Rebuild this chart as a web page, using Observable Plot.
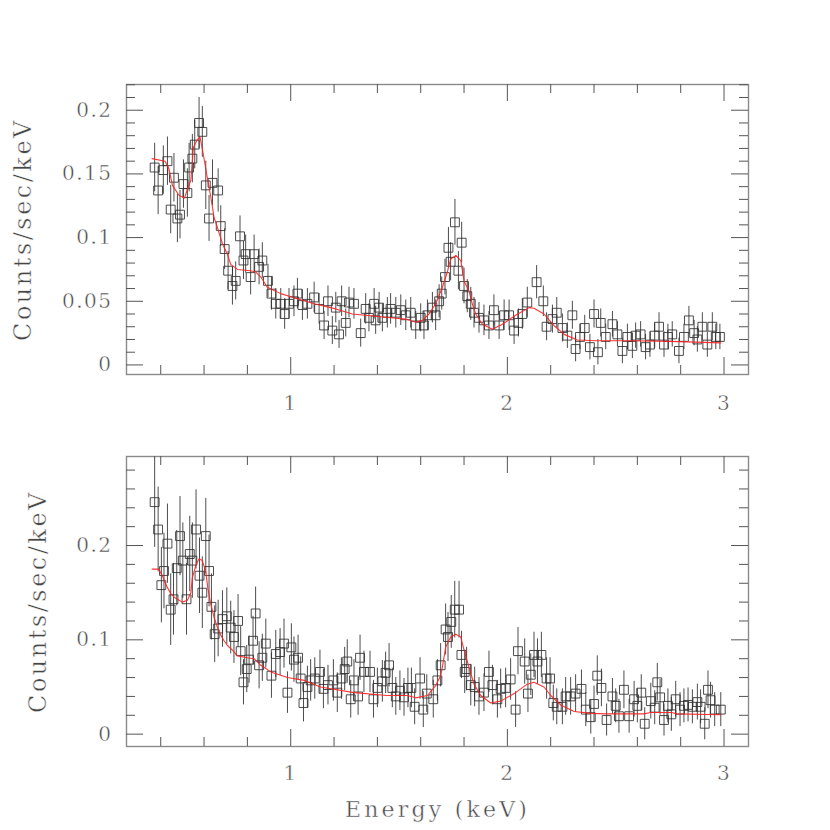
<!DOCTYPE html>
<html><head><meta charset="utf-8">
<script src="https://cdn.jsdelivr.net/npm/d3@7"></script>
<script src="https://cdn.jsdelivr.net/npm/@observablehq/plot@0.6"></script>
<style>body{margin:0;background:#fff;} #chart svg{display:block;}</style>
</head><body><div id="chart"></div>
<script>
// ---- Data: [energy keV, counts/sec/keV, error] ----
const topData = [
[0.372,0.155,0.019],[0.388,0.137,0.019],[0.412,0.153,0.019],[0.431,0.160,0.019],[0.446,0.122,0.019],
[0.461,0.147,0.019],[0.477,0.115,0.019],[0.489,0.118,0.019],[0.505,0.142,0.019],[0.523,0.135,0.019],
[0.531,0.155,0.019],[0.546,0.162,0.019],[0.557,0.173,0.019],[0.577,0.190,0.020],[0.592,0.183,0.020],
[0.608,0.141,0.019],[0.623,0.115,0.018],[0.639,0.143,0.018],[0.665,0.137,0.017],[0.677,0.109,0.016],
[0.695,0.091,0.016],[0.711,0.074,0.015],[0.731,0.062,0.015],[0.746,0.066,0.015],[0.766,0.101,0.016],
[0.782,0.082,0.015],[0.792,0.087,0.015],[0.815,0.069,0.014],[0.831,0.087,0.015],[0.854,0.077,0.014],
[0.869,0.082,0.014],[0.895,0.066,0.013],[0.911,0.056,0.013],[0.931,0.048,0.012],[0.954,0.048,0.012],
[0.972,0.040,0.012],[0.992,0.048,0.012],[1.015,0.050,0.012],[1.031,0.056,0.012],[1.054,0.047,0.012],
[1.077,0.048,0.012],[1.108,0.053,0.012],[1.131,0.044,0.012],[1.154,0.031,0.011],[1.172,0.050,0.012],
[1.192,0.027,0.011],[1.208,0.045,0.012],[1.223,0.024,0.011],[1.235,0.050,0.012],[1.254,0.033,0.011],
[1.269,0.049,0.012],[1.292,0.048,0.012],[1.323,0.025,0.011],[1.346,0.044,0.012],[1.361,0.037,0.011],
[1.385,0.048,0.012],[1.392,0.035,0.011],[1.408,0.045,0.012],[1.423,0.037,0.011],[1.446,0.041,0.012],
[1.461,0.044,0.012],[1.485,0.041,0.012],[1.508,0.043,0.012],[1.531,0.039,0.012],[1.554,0.041,0.012],
[1.577,0.031,0.011],[1.600,0.037,0.011],[1.615,0.031,0.011],[1.631,0.039,0.012],[1.654,0.045,0.012],
[1.669,0.039,0.012],[1.685,0.050,0.013],[1.697,0.056,0.013],[1.712,0.069,0.014],[1.728,0.092,0.016],
[1.738,0.081,0.015],[1.758,0.112,0.018],[1.774,0.074,0.015],[1.789,0.096,0.016],[1.800,0.062,0.014],
[1.815,0.054,0.013],[1.831,0.048,0.013],[1.846,0.041,0.012],[1.869,0.037,0.012],[1.892,0.035,0.012],
[1.915,0.031,0.011],[1.938,0.043,0.012],[1.962,0.031,0.011],[1.985,0.039,0.012],[2.008,0.039,0.012],
[2.031,0.027,0.011],[2.051,0.033,0.011],[2.069,0.040,0.012],[2.092,0.049,0.012],[2.135,0.065,0.013],
[2.166,0.050,0.012],[2.181,0.030,0.011],[2.208,0.036,0.011],[2.228,0.041,0.012],[2.254,0.029,0.011],
[2.277,0.023,0.010],[2.300,0.039,0.011],[2.315,0.0125,0.010],[2.335,0.022,0.010],[2.357,0.029,0.010],
[2.381,0.014,0.010],[2.400,0.040,0.011],[2.418,0.010,0.010],[2.431,0.033,0.011],[2.454,0.022,0.010],
[2.485,0.032,0.010],[2.508,0.024,0.010],[2.531,0.011,0.010],[2.554,0.022,0.010],[2.577,0.015,0.010],
[2.592,0.023,0.010],[2.615,0.024,0.010],[2.638,0.014,0.010],[2.658,0.016,0.010],[2.680,0.023,0.010],
[2.700,0.030,0.011],[2.723,0.016,0.010],[2.741,0.022,0.010],[2.761,0.024,0.010],[2.792,0.011,0.010],
[2.815,0.022,0.010],[2.838,0.035,0.011],[2.862,0.025,0.010],[2.877,0.020,0.010],[2.900,0.030,0.011],
[2.923,0.016,0.010],[2.946,0.030,0.011],[2.962,0.022,0.010],[2.981,0.022,0.010]
];
const topModel = [
[0.36,0.162],[0.42,0.160],[0.438,0.154],[0.454,0.141],[0.485,0.133],[0.51,0.131],[0.523,0.138],
[0.539,0.145],[0.551,0.171],[0.569,0.177],[0.581,0.179],[0.595,0.167],[0.615,0.147],[0.631,0.132],
[0.646,0.116],[0.669,0.104],[0.685,0.095],[0.708,0.087],[0.723,0.079],[0.754,0.075],[0.815,0.074],
[0.838,0.073],[0.862,0.069],[0.892,0.061],[0.954,0.056],[1.031,0.052],[1.108,0.048],[1.208,0.044],
[1.285,0.040],[1.438,0.0374],[1.531,0.036],[1.577,0.0335],[1.608,0.035],[1.638,0.040],[1.669,0.048],
[1.700,0.061],[1.723,0.073],[1.738,0.083],[1.762,0.086],[1.785,0.082],[1.800,0.066],[1.823,0.058],
[1.838,0.048],[1.854,0.040],[1.885,0.032],[1.931,0.028],[1.977,0.032],[2.038,0.039],[2.100,0.045],
[2.123,0.0445],[2.169,0.040],[2.215,0.031],[2.262,0.024],[2.323,0.0196],[2.415,0.019],[2.569,0.019],
[2.75,0.0185],[2.985,0.0173]
];
const bottomData = [
[0.372,0.246,0.048],[0.388,0.217,0.045],[0.403,0.158,0.040],[0.415,0.173,0.040],[0.431,0.202,0.042],
[0.446,0.132,0.038],[0.459,0.143,0.038],[0.474,0.176,0.040],[0.489,0.210,0.042],[0.502,0.184,0.040],
[0.519,0.143,0.038],[0.534,0.191,0.040],[0.546,0.184,0.040],[0.563,0.217,0.042],[0.579,0.168,0.040],
[0.592,0.150,0.038],[0.608,0.210,0.040],[0.623,0.173,0.038],[0.634,0.135,0.035],[0.649,0.106,0.030],
[0.665,0.112,0.030],[0.685,0.122,0.030],[0.705,0.125,0.030],[0.723,0.113,0.028],[0.738,0.103,0.028],
[0.757,0.120,0.028],[0.769,0.088,0.026],[0.782,0.055,0.024],[0.797,0.069,0.025],[0.808,0.079,0.025],
[0.826,0.099,0.026],[0.838,0.128,0.028],[0.854,0.073,0.025],[0.869,0.081,0.025],[0.885,0.096,0.026],
[0.911,0.062,0.024],[0.931,0.085,0.025],[0.951,0.087,0.025],[0.969,0.096,0.026],[0.985,0.044,0.022],
[1.003,0.092,0.025],[1.015,0.079,0.024],[1.034,0.081,0.024],[1.046,0.059,0.023],[1.059,0.033,0.020],
[1.077,0.050,0.022],[1.092,0.057,0.022],[1.111,0.059,0.022],[1.135,0.066,0.023],[1.151,0.048,0.021],
[1.172,0.052,0.021],[1.197,0.057,0.022],[1.215,0.044,0.021],[1.234,0.059,0.022],[1.249,0.069,0.023],
[1.261,0.077,0.023],[1.277,0.037,0.020],[1.292,0.057,0.022],[1.311,0.040,0.020],[1.320,0.081,0.024],
[1.338,0.066,0.022],[1.366,0.066,0.022],[1.382,0.037,0.020],[1.400,0.049,0.021],[1.423,0.056,0.022],
[1.438,0.065,0.022],[1.454,0.073,0.023],[1.469,0.049,0.021],[1.485,0.040,0.020],[1.504,0.046,0.021],
[1.523,0.039,0.020],[1.541,0.049,0.021],[1.557,0.049,0.021],[1.572,0.029,0.019],[1.597,0.059,0.022],
[1.612,0.026,0.019],[1.628,0.043,0.020],[1.658,0.037,0.020],[1.677,0.057,0.022],[1.692,0.073,0.023],
[1.715,0.111,0.027],[1.726,0.103,0.026],[1.741,0.119,0.028],[1.757,0.132,0.030],[1.777,0.132,0.030],
[1.788,0.084,0.025],[1.803,0.066,0.023],[1.812,0.069,0.023],[1.831,0.052,0.022],[1.849,0.050,0.021],
[1.869,0.040,0.020],[1.892,0.044,0.020],[1.915,0.066,0.022],[1.931,0.052,0.021],[1.954,0.037,0.020],
[1.969,0.048,0.021],[1.992,0.049,0.021],[2.015,0.058,0.022],[2.038,0.026,0.019],[2.049,0.088,0.025],
[2.080,0.077,0.024],[2.095,0.043,0.020],[2.108,0.063,0.022],[2.123,0.084,0.024],[2.139,0.077,0.024],
[2.157,0.084,0.024],[2.181,0.059,0.022],[2.197,0.059,0.022],[2.212,0.033,0.019],[2.228,0.029,0.019],
[2.254,0.029,0.019],[2.269,0.040,0.020],[2.292,0.040,0.020],[2.315,0.043,0.020],[2.342,0.048,0.020],
[2.362,0.026,0.018],[2.385,0.018,0.018],[2.400,0.032,0.019],[2.415,0.062,0.021],[2.434,0.049,0.020],
[2.458,0.015,0.017],[2.485,0.040,0.019],[2.500,0.030,0.018],[2.515,0.019,0.018],[2.538,0.047,0.020],
[2.562,0.019,0.018],[2.585,0.037,0.019],[2.600,0.030,0.018],[2.618,0.044,0.019],[2.634,0.011,0.017],
[2.662,0.035,0.019],[2.680,0.028,0.018],[2.692,0.055,0.020],[2.705,0.039,0.019],[2.723,0.015,0.017],
[2.741,0.030,0.018],[2.757,0.021,0.018],[2.777,0.037,0.019],[2.797,0.026,0.018],[2.815,0.030,0.018],
[2.834,0.031,0.018],[2.854,0.029,0.018],[2.877,0.034,0.019],[2.892,0.029,0.018],[2.911,0.011,0.017],
[2.926,0.047,0.020],[2.938,0.036,0.019],[2.957,0.026,0.018],[2.985,0.026,0.018]
];
const bottomModel = [
[0.36,0.175],[0.39,0.175],[0.408,0.168],[0.423,0.159],[0.446,0.149],[0.469,0.144],[0.500,0.140],
[0.523,0.142],[0.539,0.150],[0.546,0.166],[0.562,0.179],[0.577,0.186],[0.592,0.184],[0.608,0.172],
[0.618,0.154],[0.631,0.138],[0.646,0.124],[0.662,0.113],[0.677,0.105],[0.692,0.099],[0.708,0.094],
[0.731,0.089],[0.754,0.083],[0.800,0.081],[0.831,0.080],[0.862,0.073],[0.908,0.066],[0.985,0.060],
[1.062,0.057],[1.138,0.050],[1.292,0.044],[1.446,0.041],[1.538,0.041],[1.577,0.0385],[1.631,0.041],
[1.669,0.0515],[1.692,0.062],[1.700,0.071],[1.715,0.092],[1.738,0.103],[1.762,0.106],[1.785,0.103],
[1.800,0.089],[1.823,0.071],[1.846,0.053],[1.877,0.041],[1.923,0.033],[1.969,0.035],[2.031,0.043],
[2.092,0.053],[2.123,0.055],[2.169,0.050],[2.200,0.041],[2.246,0.031],[2.308,0.024],[2.385,0.022],
[2.46,0.0215],[2.63,0.0215],[2.66,0.023],[2.76,0.023],[2.78,0.0215],[2.985,0.0205]
];

// ---- Ticks & labels ----
const xDomain = [0.242, 3.113];
const xMajorTicks = [1, 2, 3];
const xMajorLabels = ["1", "2", "3"];
const xMinorTicks = [0.4,0.6,0.8,1.2,1.4,1.6,1.8,2.2,2.4,2.6,2.8];
const topYDomain = [-0.0075, 0.2202];
const topYMajor = [0, 0.05, 0.1, 0.15, 0.2];
const topYLabels = ["0", "0.05", "0.1", "0.15", "0.2"];
const topYMinor = [0.01,0.02,0.03,0.04,0.06,0.07,0.08,0.09,0.11,0.12,0.13,0.14,0.16,0.17,0.18,0.19,0.21,0.22];
const bottomYDomain = [-0.0131, 0.2944];
const bottomYMajor = [0, 0.1, 0.2];
const bottomYLabels = ["0", "0.1", "0.2"];
const bottomYMinor = [0.02,0.04,0.06,0.08,0.12,0.14,0.16,0.18,0.22,0.24,0.26,0.28];
const yTitle = "Counts/sec/keV";
const xTitle = "Energy (keV)";

const W = 830, H = 415, ML = 126, MR = 82;
const FONT = "DejaVu Serif";
const TXT = "#474747";
const thin = {stroke: "#fff", strokeWidth: 0.45, paintOrder: "normal"};

function panel(o) {
  const fw = W - ML - MR, fh = H - o.marginTop - o.marginBottom;
  const tk = "#555";
  const marks = [
    Plot.frame({stroke: "#8a8a8a", strokeWidth: 1.4}),
    Plot.tickX(xMajorTicks, {x: d => d, insetTop: fh - 17, stroke: tk}),
    Plot.tickX(xMajorTicks, {x: d => d, insetBottom: fh - 17, stroke: tk}),
    Plot.tickX(xMinorTicks, {x: d => d, insetTop: fh - 9, stroke: tk}),
    Plot.tickX(xMinorTicks, {x: d => d, insetBottom: fh - 9, stroke: tk}),
    Plot.tickY(o.yMajor, {y: d => d, insetRight: fw - 17, stroke: tk}),
    Plot.tickY(o.yMajor, {y: d => d, insetLeft: fw - 17, stroke: tk}),
    Plot.tickY(o.yMinor, {y: d => d, insetRight: fw - 9, stroke: tk}),
    Plot.tickY(o.yMinor, {y: d => d, insetLeft: fw - 9, stroke: tk}),
    Plot.ruleX(o.data, {x: d => d[0], y1: d => d[1] - d[2], y2: d => d[1] + d[2], stroke: "#2e2e2e", strokeWidth: 1, strokeOpacity: 0.85, clip: true}),
    Plot.dot(o.data, {x: d => d[0], y: d => d[1], symbol: "square", r: 5, stroke: "#2e2e2e", strokeOpacity: 0.85, fill: "none", strokeWidth: 1, clip: true}),
    Plot.line(o.model, {x: d => d[0], y: d => d[1], stroke: "#ff2020", strokeWidth: 1.1, strokeOpacity: 0.9}),
    Plot.text(xMajorTicks, {x: d => d, text: (d, i) => xMajorLabels[i], frameAnchor: "bottom", dy: o.xLabelDy, fontSize: 20, fill: TXT, lineAnchor: "middle", ...thin}),
    Plot.text(o.yMajor, {y: d => d, text: (d, i) => o.yLabels[i], frameAnchor: "left", dx: -14, textAnchor: "end", fontSize: 20, fill: TXT, lineAnchor: "middle", ...thin}),
    Plot.text([yTitle], {text: d => d, frameAnchor: "left", dx: o.yTitleDx, textAnchor: "middle", rotate: -90, fontSize: 24, fill: TXT, lineAnchor: "middle", ...thin})
  ];
  if (o.showXTitle) {
    marks.push(Plot.text([xTitle], {text: d => d, frameAnchor: "bottom", textAnchor: "middle", dy: 63, fontSize: 22, fill: TXT, lineAnchor: "middle", ...thin}));
  }
  const svg = Plot.plot({
    width: W, height: H,
    marginLeft: ML, marginRight: MR, marginTop: o.marginTop, marginBottom: o.marginBottom,
    x: {domain: xDomain, axis: null},
    y: {domain: o.yDomain, axis: null},
    style: {fontFamily: FONT, background: "#fff", letterSpacing: "1.5px"},
    marks
  });
  d3.select(svg).selectAll("text").each(function() {
    if (this.textContent === yTitle) this.setAttribute("letter-spacing", "2.5px");
    if (this.textContent === xTitle) this.setAttribute("letter-spacing", "3.2px");
  });
  return svg;
}

const chart = document.getElementById("chart");
chart.appendChild(panel({data: topData, model: topModel, yDomain: topYDomain, yMajor: topYMajor, yLabels: topYLabels, yMinor: topYMinor, marginTop: 84, marginBottom: 41, yTitleDx: -103, xLabelDy: 29, showXTitle: false}));
chart.appendChild(panel({data: bottomData, model: bottomModel, yDomain: bottomYDomain, yMajor: bottomYMajor, yLabels: bottomYLabels, yMinor: bottomYMinor, marginTop: 41, marginBottom: 84, yTitleDx: -88, xLabelDy: 27, showXTitle: true}));
</script>
</body></html>
